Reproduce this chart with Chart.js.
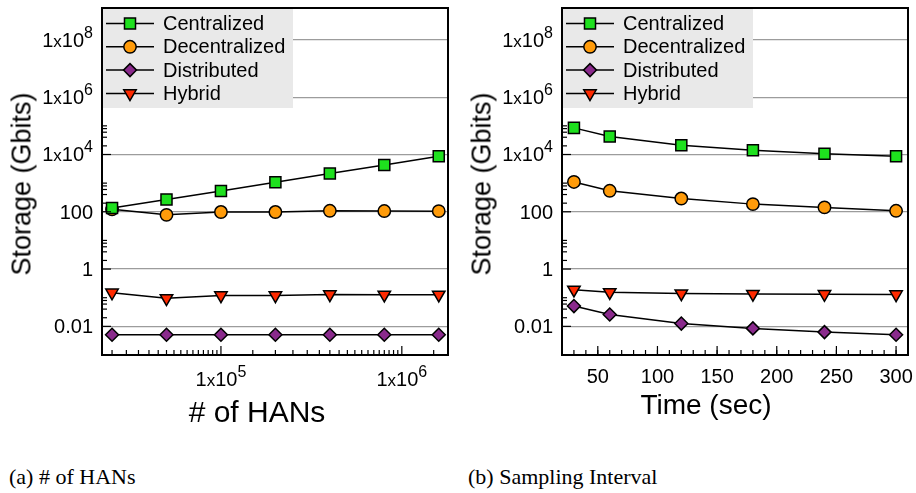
<!DOCTYPE html>
<html>
<head>
<meta charset="utf-8">
<script src="https://cdn.jsdelivr.net/npm/chart.js@4/dist/chart.umd.min.js"></script>
<style>
	body { margin: 0; background: #fff; width: 916px; height: 493px; overflow: hidden; position: relative; font-family: "Liberation Sans", Arial, sans-serif; }
	canvas { position: absolute; top: 0; }
	.lbl { position: absolute; white-space: nowrap; color: #000; transform: translate(-50%, -50%); }
	.ytitle { transform: translate(-50%, -50%) rotate(-90deg); }
	.cap { position: absolute; white-space: nowrap; font-family: "Liberation Serif", "Times New Roman", serif; font-size: 22px; color: #000; }
</style>
</head>
<body>
<canvas id="hans-chart" width="460" height="400" style="left:0"></canvas>
<canvas id="interval-chart" width="460" height="400" style="left:460px"></canvas>

<div class="lbl ytitle" style="left:22px;top:184px;font-size:27px">Storage (Gbits)</div>
<div class="lbl ytitle" style="left:482px;top:184px;font-size:27px">Storage (Gbits)</div>
<div class="lbl" style="left:257px;top:412px;font-size:30px"># of HANs</div>
<div class="lbl" style="left:706px;top:405px;font-size:28px">Time (sec)</div>
<div class="cap" style="left:9px;top:464px">(a) # of HANs</div>
<div class="cap" style="left:468px;top:464px">(b) Sampling Interval</div>

<script>
var seriesNames = ['Centralized', 'Decentralized', 'Distributed', 'Hybrid'];
var seriesColors = ['#1ee01e', '#ff9b0a', '#8a2a8c', '#ff2a00'];

// (a) number of HANs
var hanCounts = [25000, 50000, 100000, 200000, 400000, 800000, 1600000];
var hanCentralized = [135, 270, 530, 1080, 2170, 4300, 8700];
var hanDecentralized = [122, 78, 98, 98, 108, 106, 105];
var hanDistributed = [0.0051, 0.0051, 0.0051, 0.0051, 0.0051, 0.0051, 0.0051];
var hanHybrid = [0.15, 0.095, 0.12, 0.12, 0.13, 0.127, 0.127];

// (b) sampling interval
var intervals = [30, 60, 120, 180, 240, 300];
var intCentralized = [85000, 42400, 21000, 14100, 10600, 8700];
var intDecentralized = [1100, 540, 290, 185, 142, 108];
var intDistributed = [0.051, 0.026, 0.0125, 0.0085, 0.0063, 0.0051];
var intHybrid = [0.19, 0.155, 0.14, 0.135, 0.133, 0.13];

var yTickValues = [0.01, 1, 100, 1e4, 1e6, 1e8];
var yTickLabels = ['0.01', '1', '100', '1x10^4', '1x10^6', '1x10^8'];
var hanTickValues = [1e5, 1e6];
var hanTickLabels = ['1x10^5', '1x10^6'];
var timeTickValues = [50, 100, 150, 200, 250, 300];
var timeTickLabels = ['50', '100', '150', '200', '250', '300'];

var FONT = '"Liberation Sans", Arial, sans-serif';

function pairs(xs, ys) {
	return xs.map(function (x, i) { return {x: x, y: ys[i]}; });
}

function makeSet(idx, xs, ys) {
	var styles = [
		{pointStyle: 'rect', pointRadius: 7.8, pointRotation: 0},
		{pointStyle: 'circle', pointRadius: 6.2, pointRotation: 0},
		{pointStyle: 'rectRot', pointRadius: 6.5, pointRotation: 0},
		{pointStyle: 'triangle', pointRadius: 7.2, pointRotation: 180}
	];
	var s = styles[idx];
	return {
		label: seriesNames[idx],
		data: pairs(xs, ys),
		borderColor: '#000',
		borderWidth: 1.5,
		backgroundColor: seriesColors[idx],
		pointBackgroundColor: seriesColors[idx],
		pointBorderColor: '#000',
		pointBorderWidth: 1.5,
		pointStyle: s.pointStyle,
		pointRadius: s.pointRadius,
		pointRotation: s.pointRotation,
		tension: 0
	};
}

// tick label with a real superscript: "1x10^8"
function drawTickLabel(ctx, label, x, baseline, align) {
	var segs;
	var parts = label.split('^');
	if (parts.length === 2) {
		var m = parts[0].split('x');
		segs = [
			{t: m[0], size: 20, dy: 0},
			{t: 'x', size: 17, dy: 0},
			{t: m[1], size: 20, dy: 0},
			{t: parts[1], size: 16, dy: -9}
		];
	} else {
		segs = [{t: label, size: 20, dy: 0}];
	}
	var total = 0;
	segs.forEach(function (s) {
		ctx.font = s.size + 'px ' + FONT;
		s.w = ctx.measureText(s.t).width;
		total += s.w;
	});
	var cx = align === 'right' ? x - total : x - total / 2;
	ctx.textAlign = 'left';
	ctx.textBaseline = 'alphabetic';
	segs.forEach(function (s) {
		ctx.font = s.size + 'px ' + FONT;
		ctx.fillText(s.t, cx, baseline + s.dy);
		cx += s.w;
	});
}

// ticks, frame and the in-plot legend, drawn like the original gnuplot figure
var framePlugin = {
	id: 'frame',
	afterDatasetsDraw: function (chart) {
		var ctx = chart.ctx, a = chart.chartArea;
		var xs = chart.scales.x, ys = chart.scales.y;
		var opt = chart.options.plugins.frame;
		ctx.save();
		ctx.strokeStyle = '#000';
		ctx.lineWidth = 1.2;

		// y ticks: major + minor in the decade above every major
		yTickValues.forEach(function (m) {
			var py = ys.getPixelForValue(m);
			ctx.beginPath(); ctx.moveTo(a.left, py); ctx.lineTo(a.left + 9, py); ctx.stroke();
			[2, 4, 6, 8, 10].forEach(function (k) {
				var v = m * k;
				if (v > ys.max) return;
				var p = ys.getPixelForValue(v);
				ctx.beginPath(); ctx.moveTo(a.left, p); ctx.lineTo(a.left + 5, p); ctx.stroke();
			});
		});

		// x ticks
		opt.minor.forEach(function (v) {
			if (v < xs.min || v > xs.max) return;
			var p = xs.getPixelForValue(v);
			ctx.beginPath(); ctx.moveTo(p, a.bottom); ctx.lineTo(p, a.bottom - 5); ctx.stroke();
		});
		opt.major.forEach(function (v) {
			var p = xs.getPixelForValue(v);
			ctx.beginPath(); ctx.moveTo(p, a.bottom); ctx.lineTo(p, a.bottom - 9); ctx.stroke();
		});

		// tick labels
		ctx.fillStyle = '#000';
		yTickValues.forEach(function (v, i) {
			drawTickLabel(ctx, yTickLabels[i], a.left - 9, ys.getPixelForValue(v) + 7, 'right');
		});
		opt.major.forEach(function (v, i) {
			drawTickLabel(ctx, opt.labels[i], xs.getPixelForValue(v), a.bottom + opt.labelDrop, 'center');
		});

		// legend box
		ctx.fillStyle = '#e9e9e9';
		ctx.fillRect(a.left, a.top, 191, 100);
		ctx.font = '20px ' + FONT;
		ctx.textBaseline = 'middle';
		ctx.textAlign = 'left';
		chart.data.datasets.forEach(function (ds, i) {
			var y = a.top + 15.5 + i * 23.3;
			ctx.strokeStyle = '#000';
			ctx.lineWidth = 1.5;
			ctx.beginPath(); ctx.moveTo(a.left + 4, y); ctx.lineTo(a.left + 52, y); ctx.stroke();
			ctx.fillStyle = ds.pointBackgroundColor;
			Chart.helpers.drawPoint(ctx, {
				pointStyle: ds.pointStyle,
				radius: ds.pointRadius,
				rotation: ds.pointRotation,
				borderWidth: 1.5
			}, a.left + 28, y);
			ctx.fillStyle = '#000';
			ctx.fillText(ds.label, a.left + 61, y + 1);
		});

		// frame
		ctx.strokeStyle = '#000';
		ctx.lineWidth = 2;
		ctx.strokeRect(a.left, a.top, a.right - a.left, a.bottom - a.top);
		ctx.restore();
	}
};

function yScale() {
	return {
		type: 'logarithmic',
		min: 0.001,
		max: 1.3e9,
		bounds: 'data',
		afterBuildTicks: function (s) { s.ticks = yTickValues.map(function (v) { return {value: v}; }); },
		afterFit: function (s) { s.width = 102; s.paddingTop = 0; s.paddingBottom = 0; },
		grid: {color: '#9c9c9c', lineWidth: 1.2, drawTicks: false},
		border: {display: false},
		ticks: {display: false}
	};
}

function buildChart(id, xScale, sets, frameOpts) {
	return new Chart(id, {
		type: 'line',
		data: {datasets: sets},
		options: {
			responsive: false,
			animation: false,
			layout: {autoPadding: false, padding: {left: 0, top: 8, right: 12, bottom: 0}},
			scales: {x: xScale, y: yScale()},
			plugins: {legend: {display: false}, tooltip: {enabled: false}, frame: frameOpts}
		},
		plugins: [framePlugin]
	});
}

var xBase = {
	bounds: 'data',
	afterFit: function (s) { s.height = 45; s.paddingLeft = 0; s.paddingRight = 0; },
	grid: {display: false, drawTicks: false},
	border: {display: false},
	ticks: {display: false}
};

var hanMinor = [];
[1e4, 1e5, 1e6].forEach(function (d) {
	for (var k = 1.5; k < 10; k += 0.5) hanMinor.push(k * d);
});

buildChart('hans-chart', Object.assign({}, xBase, {
	type: 'logarithmic',
	min: 22000,
	max: 1.8e6,
	afterBuildTicks: function (s) { s.ticks = hanTickValues.map(function (v) { return {value: v}; }); }
}), [
	makeSet(0, hanCounts, hanCentralized),
	makeSet(1, hanCounts, hanDecentralized),
	makeSet(2, hanCounts, hanDistributed),
	makeSet(3, hanCounts, hanHybrid)
], {major: hanTickValues, minor: hanMinor, labels: hanTickLabels, labelDrop: 31});

var timeMinor = [];
for (var t = 20; t <= 310; t += 10) timeMinor.push(t);

buildChart('interval-chart', Object.assign({}, xBase, {
	type: 'linear',
	min: 20,
	max: 310,
	afterBuildTicks: function (s) { s.ticks = timeTickValues.map(function (v) { return {value: v}; }); }
}), [
	makeSet(0, intervals, intCentralized),
	makeSet(1, intervals, intDecentralized),
	makeSet(2, intervals, intDistributed),
	makeSet(3, intervals, intHybrid)
], {major: timeTickValues, minor: timeMinor, labels: timeTickLabels, labelDrop: 28});
</script>
</body>
</html>
